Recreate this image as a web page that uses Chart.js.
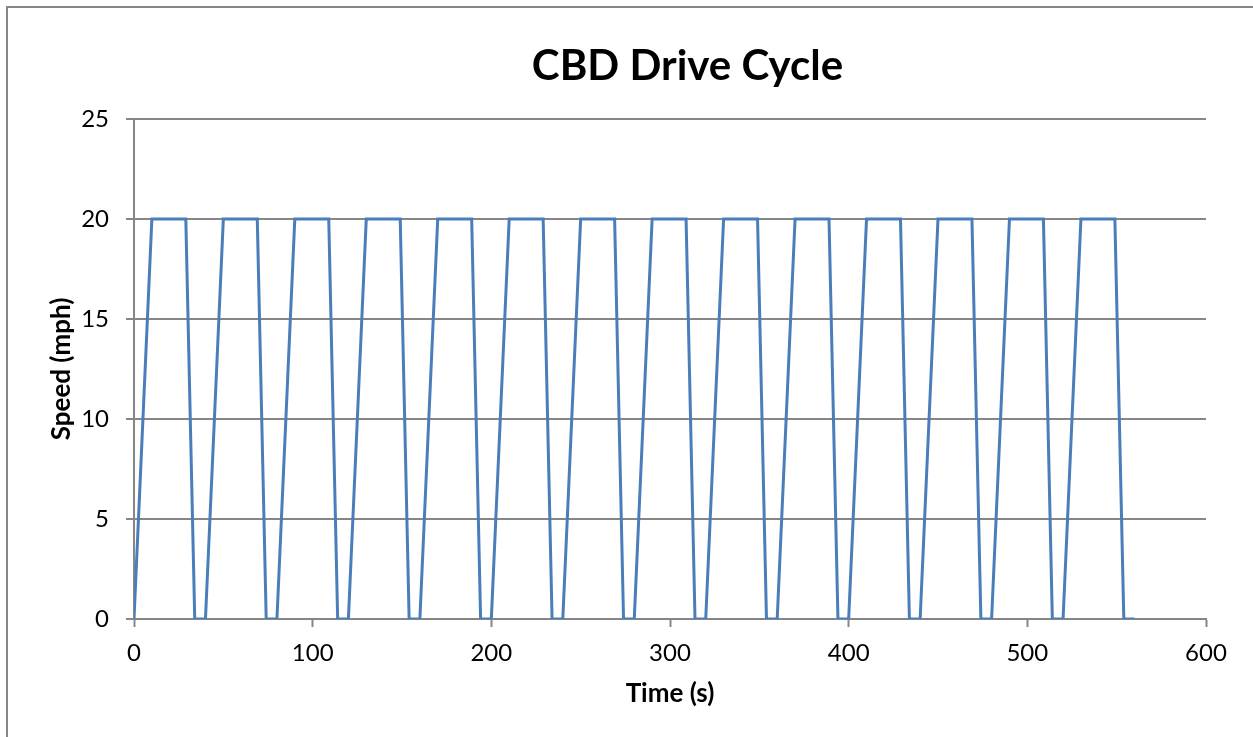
<!DOCTYPE html>
<html>
<head>
<meta charset="utf-8">
<title>CBD Drive Cycle</title>
<script src="https://cdn.jsdelivr.net/npm/chart.js@4/dist/chart.umd.min.js"></script>
<style>
  html, body { margin: 0; padding: 0; background: #ffffff; overflow: hidden; }
  #wrap { position: relative; width: 1253px; height: 737px; }
</style>
</head>
<body>
<div id="wrap"><canvas id="chart" width="1253" height="737"></canvas></div>
<script>
// CBD drive cycle: 14 identical accelerate / cruise / brake / idle segments
const chartTitle = 'CBD Drive Cycle';
const xAxisTitle = 'Time (s)';
const yAxisTitle = 'Speed (mph)';

// Time of each vertex of the speed trace (s)
const timeSec = [
  0, 10, 29, 34,
  40, 50, 69, 74,
  80, 90, 109, 114,
  120, 130, 149, 154,
  160, 170, 189, 194,
  200, 210, 229, 234,
  240, 250, 269, 274,
  280, 290, 309, 314,
  320, 330, 349, 354,
  360, 370, 389, 394,
  400, 410, 429, 434,
  440, 450, 469, 474,
  480, 490, 509, 514,
  520, 530, 549, 554,
  560
];

// Vehicle speed at each vertex (mph)
const speedMph = [
  0, 20, 20, 0,
  0, 20, 20, 0,
  0, 20, 20, 0,
  0, 20, 20, 0,
  0, 20, 20, 0,
  0, 20, 20, 0,
  0, 20, 20, 0,
  0, 20, 20, 0,
  0, 20, 20, 0,
  0, 20, 20, 0,
  0, 20, 20, 0,
  0, 20, 20, 0,
  0, 20, 20, 0,
  0, 20, 20, 0,
  0
];

// Axis ranges and tick spacing
const xRange = [0, 600];
const xStep = 100;
const yRange = [0, 25];
const yStep = 5;

const points = timeSec.map((t, i) => ({ x: t, y: speedMph[i] }));

const axisGrey = '#868686';
const lineBlue = '#4A7EBB';
const fontFamily = 'Lato, "Open Sans", "DejaVu Sans", sans-serif';

// White background, the chart-area frame and the heading
const framePlugin = {
  id: 'frame',
  beforeDraw(chart) {
    const ctx = chart.ctx;
    ctx.save();
    ctx.fillStyle = '#ffffff';
    ctx.fillRect(0, 0, chart.width, chart.height);
    ctx.strokeStyle = axisGrey;
    ctx.lineWidth = 2;
    ctx.strokeRect(7, 7, chart.width + 200, chart.height + 200);
    ctx.restore();
  },
  afterDraw(chart) {
    const ctx = chart.ctx;
    ctx.save();
    ctx.fillStyle = '#000000';
    ctx.font = 'bold 42px ' + fontFamily;
    ctx.textAlign = 'center';
    ctx.textBaseline = 'alphabetic';
    ctx.fillText(chartTitle, 687.5, 80);
    ctx.restore();
  }
};

new Chart(document.getElementById('chart'), {
  type: 'scatter',
  data: {
    datasets: [{
      label: yAxisTitle,
      data: points,
      showLine: true,
      borderColor: lineBlue,
      backgroundColor: lineBlue,
      borderWidth: 3,
      pointRadius: 0,
      pointHoverRadius: 0,
      tension: 0,
      borderJoinStyle: 'miter'
    }]
  },
  options: {
    responsive: false,
    animation: false,
    layout: { padding: { left: 0, right: 47, top: 119, bottom: 0 } },
    plugins: {
      legend: { display: false },
      title: { display: false },
      tooltip: { enabled: false }
    },
    scales: {
      x: {
        type: 'linear',
        min: xRange[0],
        max: xRange[1],
        afterFit(scale) { scale.height = 118; },
        ticks: {
          stepSize: xStep,
          color: '#000000',
          font: { family: fontFamily, size: 24 },
          padding: 12,
          maxRotation: 0
        },
        grid: {
          drawOnChartArea: false,
          drawTicks: true,
          tickLength: 8,
          tickWidth: 2,
          color: axisGrey
        },
        border: { display: true, color: axisGrey, width: 2 },
        title: {
          display: true,
          text: xAxisTitle,
          color: '#000000',
          font: { family: fontFamily, size: 26, weight: 'bold' },
          padding: { top: 10, bottom: 28 }
        }
      },
      y: {
        type: 'linear',
        min: yRange[0],
        max: yRange[1],
        afterFit(scale) { scale.width = 134; },
        ticks: {
          stepSize: yStep,
          color: '#000000',
          font: { family: fontFamily, size: 24 },
          padding: 17
        },
        grid: {
          drawOnChartArea: true,
          drawTicks: true,
          tickLength: 8,
          lineWidth: 2,
          tickWidth: 2,
          color: axisGrey
        },
        border: { display: true, color: axisGrey, width: 2 },
        title: {
          display: true,
          text: yAxisTitle,
          color: '#000000',
          font: { family: fontFamily, size: 26, weight: 'bold' },
          padding: { top: 46, bottom: 0 }
        }
      }
    }
  },
  plugins: [framePlugin]
});
</script>
</body>
</html>
